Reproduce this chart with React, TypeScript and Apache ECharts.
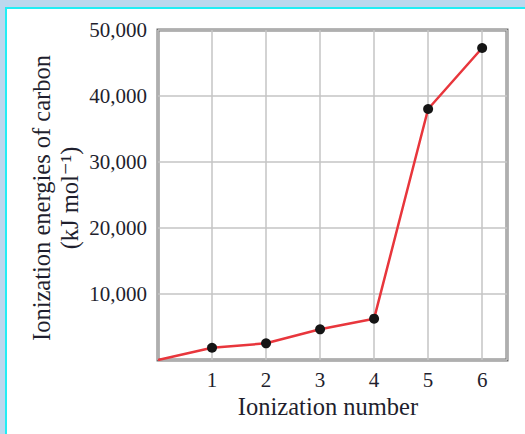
import React, { useEffect, useRef } from "react";
import * as echarts from "echarts";

const ionizationNumbers = [0, 1, 2, 3, 4, 5, 6];
const energies = [0, 1850, 2530, 4650, 6260, 38030, 47270];
const yTicks = [0, 10000, 20000, 30000, 40000, 50000];
const xTicks = [1, 2, 3, 4, 5, 6];

const FONT = '"Liberation Serif", "DejaVu Serif", serif';
const TEXT = "#1f1f2e";

export default function App() {
  const ref = useRef<HTMLDivElement>(null);
  useEffect(() => {
    if (!ref.current) return;
    const chart = echarts.init(ref.current, undefined, { renderer: "svg" });
    const data = ionizationNumbers.map((x, i) =>
      i === 0
        ? { value: [x, energies[i]], symbol: "none" }
        : { value: [x, energies[i]] }
    );
    chart.setOption({
      animation: false,
      backgroundColor: "transparent",
      grid: {
        left: 158,
        right: 18,
        top: 30,
        bottom: 74,
        show: true,
        borderColor: "#6f6f6f",
        borderWidth: 3,
        backgroundColor: "#ffffff",
      },
      xAxis: {
        type: "value",
        min: 0,
        max: 6.46,
        interval: 1,
        axisLine: { show: false },
        axisTick: { show: false },
        splitLine: { show: true, lineStyle: { color: "#c4c4c4", width: 1.5 } },
        axisLabel: {
          margin: 9,
          color: TEXT,
          fontFamily: FONT,
          fontSize: 21,
          formatter: (v: number) =>
            xTicks.indexOf(v) >= 0 ? String(v) : "",
        },
      },
      yAxis: {
        type: "value",
        min: yTicks[0],
        max: yTicks[yTicks.length - 1],
        interval: 10000,
        axisLine: { show: false },
        axisTick: { show: false },
        splitLine: { show: true, lineStyle: { color: "#c4c4c4", width: 1.5 } },
        axisLabel: {
          margin: 11,
          showMinLabel: false,
          color: TEXT,
          fontFamily: FONT,
          fontSize: 21,
          formatter: (v: number) => (v === 0 ? "" : v.toLocaleString("en-US")),
        },
      },
      graphic: [
        {
          type: "text",
          x: 328,
          y: 406,
          style: {
            text: "Ionization number",
            fontFamily: FONT,
            fontSize: 24.5,
            fill: TEXT,
            textAlign: "center",
            textVerticalAlign: "middle",
          },
        },
        {
          type: "text",
          x: 41,
          y: 198,
          rotation: Math.PI / 2,
          style: {
            text: "Ionization energies of carbon",
            fontFamily: FONT,
            fontSize: 24.5,
            fill: TEXT,
            textAlign: "center",
            textVerticalAlign: "middle",
          },
        },
        {
          type: "text",
          x: 69,
          y: 198,
          rotation: Math.PI / 2,
          style: {
            text: "(kJ mol\u207B\u00B9)",
            fontFamily: FONT,
            fontSize: 24.5,
            fill: TEXT,
            textAlign: "center",
            textVerticalAlign: "middle",
          },
        },
      ],
      series: [
        {
          type: "line",
          data,
          symbol: "circle",
          symbolSize: 10,
          itemStyle: { color: "#151515" },
          lineStyle: { color: "#e8363c", width: 2.5 },
          z: 3,
        },
      ],
    });
    return () => chart.dispose();
  }, []);

  return (
    <div
      style={{
        position: "fixed",
        left: 0,
        top: 0,
        width: 525,
        height: 434,
        background: "#bcd8ee",
      }}
    >
      <div
        style={{
          position: "absolute",
          left: 5,
          top: 7,
          right: 0,
          bottom: 0,
          borderLeft: "2px solid #22eef4",
          borderTop: "2px solid #22eef4",
          background: "#ffffff",
        }}
      />
      <div
        ref={ref}
        style={{ position: "absolute", left: 0, top: 0, width: 525, height: 434 }}
      />
    </div>
  );
}
